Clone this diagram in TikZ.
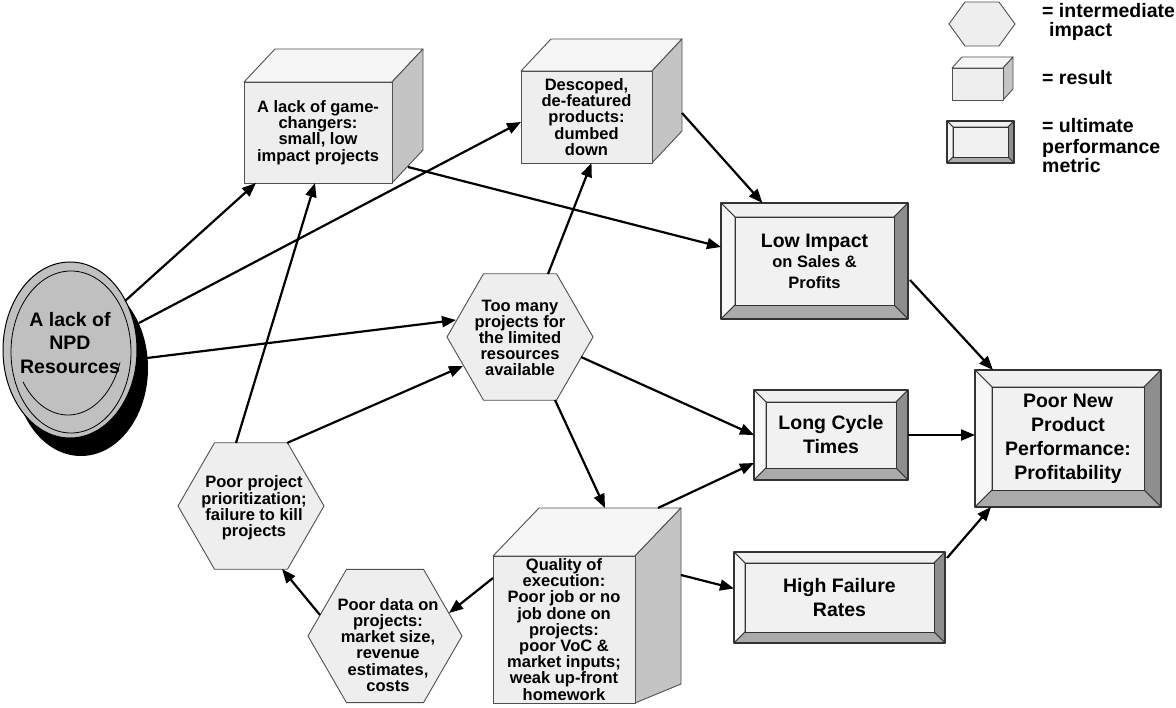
\documentclass[tikz,border=0pt]{standalone}
\usepackage{fontspec}
\setmainfont{Liberation Sans}
\usetikzlibrary{arrows.meta,calc,shapes.geometric}
\pgfdeclarelayer{bg}
\pgfsetlayers{bg,main}
\definecolor{facefront}{HTML}{EEEEEE}
\definecolor{facetop}{HTML}{F6F6F6}
\definecolor{faceside}{HTML}{C4C4C4}
\definecolor{bevtop}{HTML}{F0F0F0}
\definecolor{bevleft}{HTML}{F7F7F7}
\definecolor{bevright}{HTML}{8E8E8E}
\definecolor{bevbot}{HTML}{AAAAAA}
\definecolor{bevin}{HTML}{F1F1F1}
\definecolor{ellgray}{HTML}{C0C0C0}
\definecolor{shapeline}{HTML}{505050}
\newcommand\txtS{\bfseries\fontsize{16.5}{16.2}\selectfont}
\newcommand\txtB{\bfseries\fontsize{19.5}{24}\selectfont}
\newcommand\txtE{\bfseries\fontsize{19.5}{23.5}\selectfont}
\newcommand\txtL{\bfseries\fontsize{16.5}{20.5}\selectfont}
\newcommand\cubefaces[3]{%
  \filldraw[cubeline, fill=facetop] (#1.north west) -- ++(#2,-#3) -- ($(#1.north east)+(#2,-#3)$) -- (#1.north east) -- cycle;
  \filldraw[cubeline, fill=faceside] (#1.north east) -- ++(#2,-#3) -- ($(#1.south east)+(#2,-#3)$) -- (#1.south east) -- cycle;
  \filldraw[cubeline, fill=facefront] (#1.north west) rectangle (#1.south east);
}
\newcommand\bevelbox[2]{%
  \filldraw[bevline, fill=bevtop] (#1.north west) -- (#1.north east) -- ($(#1.north east)+(-#2,#2)$) -- ($(#1.north west)+(#2,#2)$) -- cycle;
  \filldraw[bevline, fill=bevleft] (#1.north west) -- ($(#1.north west)+(#2,#2)$) -- ($(#1.south west)+(#2,-#2)$) -- (#1.south west) -- cycle;
  \filldraw[bevline, fill=bevright] (#1.north east) -- ($(#1.north east)+(-#2,#2)$) -- ($(#1.south east)+(-#2,-#2)$) -- (#1.south east) -- cycle;
  \filldraw[bevline, fill=bevbot] (#1.south west) -- ($(#1.south west)+(#2,-#2)$) -- ($(#1.south east)+(-#2,-#2)$) -- (#1.south east) -- cycle;
  \draw[bevline, line width=1.1pt] (#1.north west) rectangle (#1.south east);
  \filldraw[bevline, fill=bevin] ($(#1.north west)+(#2,#2)$) rectangle ($(#1.south east)+(-#2,-#2)$);
}
\begin{document}
\begin{tikzpicture}[x=1pt,y=-1pt,
  cubeline/.style={draw=shapeline, line width=0.9pt, line join=round},
  bevline/.style={draw=black!80, line width=0.8pt, line join=round},
  boxnode/.style={inner sep=0pt, outer sep=0pt, align=center, font=\txtS},
  bignode/.style={inner sep=0pt, outer sep=0pt, align=center, font=\txtB},
  hexnode/.style={regular polygon, regular polygon sides=6, inner sep=0pt, outer sep=0pt,
                  draw=shapeline, fill=facefront, line width=0.9pt},
  hextxt/.style={inner sep=0pt, align=center, font=\txtS},
  legtxt/.style={anchor=base west, inner sep=0pt, font=\txtB},
  arr/.style={line width=2.2pt, -{Triangle[length=14pt,width=11pt]}}]
\useasboundingbox (0,0) rectangle (1176,708);

% ---- result boxes (cubes)
\node[boxnode, minimum width=148, minimum height=101] (gc) at (318,132.5)
  {A lack of game-\\changers:\\small, low\\impact projects};
\node[boxnode, minimum width=131, minimum height=92] (ds) at (586.5,117)
  {Descoped,\\de-featured\\products:\\dumbed\\down};
\node[boxnode, minimum width=142, minimum height=147] (qe) at (564,629.5)
  {Quality of\\execution:\\Poor job or no\\job done on\\projects:\\poor VoC \&\\market inputs;\\weak up-front\\homework};

% ---- ultimate metric boxes (bevelled)
\node[boxnode, font=\txtL, minimum width=187, minimum height=116] (ld) at (814.5,261)
  {{\fontsize{19.5}{20.5}\selectfont Low Impact}\\on Sales \&\\Profits};
\node[bignode, minimum width=154, minimum height=90] (lc) at (831,435) {Long Cycle\\Times};
\node[bignode, minimum width=186, minimum height=137] (pn) at (1068,438.5)
  {Poor New\\Product\\Performance:\\Profitability};
\node[bignode, minimum width=211, minimum height=91] (hf) at (839.5,597.5) {High Failure\\Rates};

% ---- intermediate impacts (hexagons)
\node[hexnode, minimum size=146] (tm) at (520,337) {};
\node[hextxt] (tmt) at (520,338) {Too many\\projects for\\the limited\\resources\\available};
\node[hexnode, minimum size=146] (pp) at (251,506) {};
\node[hextxt] (ppt) at (254,508) {Poor project\\prioritization;\\failure to kill\\projects};
\node[hexnode, minimum size=154] (pd) at (385,636) {};
\node[hextxt] (pdt) at (388,645) {Poor data on\\projects:\\market size,\\revenue\\estimates,\\costs};

% ---- source ellipse text
\node[inner sep=0pt, align=center, font=\txtE] (res) at (70,343) {A lack of\\NPD\\Resources};

% ---- legend
\coordinate (lhex) at (982,24);
\node[inner sep=0pt, outer sep=0pt, minimum width=51, minimum height=32] (lcube) at (977.5,84) {};
\node[inner sep=0pt, outer sep=0pt, minimum width=67, minimum height=42] (lbev) at (980.5,142) {};
\node[legtxt] (lt1) at (1042,18) {= intermediate};
\node[legtxt] (lt2) at (1049,37) {impact};
\node[legtxt] (lt3) at (1042,85) {= result};
\node[legtxt] (lt4) at (1042,133) {= ultimate};
\node[legtxt] (lt5) at (1042,154) {performance};
\node[legtxt] (lt6) at (1042,173) {metric};

\begin{pgfonlayer}{bg}
  \fill[white] (0,0) rectangle (1176,708);
  % ellipse disc
  \fill[black] (81,368) ellipse [x radius=67, y radius=88];
  \filldraw[fill=ellgray, draw=black, line width=1pt] (70,350) ellipse [x radius=67, y radius=88];
  \draw[line width=0.8pt] (71,352) ellipse [x radius=60, y radius=81];
  \draw[line width=0.8pt] plot[domain=19:145, samples=40, smooth] ({68+55*cos(\x)},{337+78*sin(\x)});
  % cubes
  \cubefaces{gc}{31}{33}
  \cubefaces{ds}{30}{32}
  \filldraw[cubeline, fill=facetop] (qe.north west) -- ++(46,-48) -- ($(qe.north east)+(46,-48)$) -- (qe.north east) -- cycle;
  \filldraw[cubeline, fill=faceside] (qe.north east) -- ++(46,-48) -- ($(qe.north east)+(46,128)$) -- (qe.south east) -- cycle;
  \filldraw[cubeline, fill=facefront] (qe.north west) rectangle (qe.south east);
  \cubefaces{lcube}{10}{11}
  % bevelled boxes
  \bevelbox{ld}{14}
  \bevelbox{lc}{12}
  \bevelbox{pn}{17}
  \bevelbox{hf}{11}
  \bevelbox{lbev}{6}
  % legend hexagon
  \filldraw[draw=shapeline, fill=facefront, line width=0.9pt]
    ($(lhex)+(-33,0)$) -- ($(lhex)+(-17,-22)$) -- ($(lhex)+(17,-22)$) -- ($(lhex)+(33,0)$)
    -- ($(lhex)+(17,22)$) -- ($(lhex)+(-17,22)$) -- cycle;
\end{pgfonlayer}

% ---- connectors
\draw[arr] ($(res)+(55,-42)$) -- ($(gc.south west)+(12,0)$);
\draw[arr] ($(res)+(69,-20)$) -- ($(ds.west)+(0,5)$);
\draw[arr] ($(res)+(77,15)$) -- ($(tm)+(-64,-17)$);
\draw[arr] ($(pp)+(-15,-63)$) -- ($(gc.south)+(-3,0)$);
\draw[arr] ($(pp)+(36,-63)$) -- ($(tm)+(-57,29)$);
\draw[arr] ($(gc.south east)+(16,-16)$) -- ($(ld.west)+(0,-14)$);
\draw[arr] ($(ds.north east)+(30,42)$) -- ($(ld.north)+(-52,0)$);
\draw[arr] ($(tm)+(28,-63)$) -- ($(ds.south)+(5,0)$);
\draw[arr] ($(tm)+(61,20)$) -- (lc.west);
\draw[arr] ($(tm)+(35,63)$) -- ($(qe.north west)+(112,-48)$);
\draw[arr] ($(qe.north west)+(165,-48)$) -- ($(lc.west)+(0,28)$);
\draw[arr] ($(qe.north east)+(46,19)$) -- ($(hf.west)+(0,-9)$);
\draw[arr] ($(qe.north west)+(0,22)$) -- ($(pd)+(64,-23)$);
\draw[arr] ($(pd)+(-65,-21)$) -- ($(pp)+(31,63)$);
\draw[arr] ($(ld.east)+(2,19)$) -- ($(pn.north west)+(18,0)$);
\draw[arr] (lc.east) -- (lc.east -| pn.west);
\draw[arr] ($(hf.north east)+(2,6)$) -- ($(pn.south west)+(16,0)$);
\end{tikzpicture}
\end{document}
